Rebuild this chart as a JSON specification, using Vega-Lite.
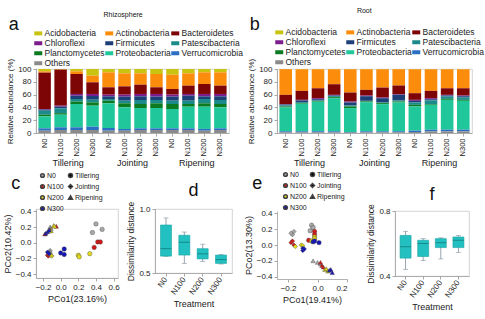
{
  "$schema": "https://vega.github.io/schema/vega-lite/v6.json",
  "padding": {"left": 2, "top": 6, "right": 2, "bottom": 0},
  "spacing": 0,
  "resolve": {"scale": {"color": "independent", "shape": "independent"}},
  "config": {
    "font": "Liberation Sans",
    "view": {"stroke": "#c8c8c8", "strokeWidth": 0.8},
    "axis": {
      "grid": false, "domainColor": "#a0a0a0", "domainWidth": 0.8,
      "tickColor": "#909090", "tickWidth": 0.8, "tickSize": 3,
      "labelColor": "#222222", "titleColor": "#222222",
      "titleFontWeight": "normal", "labelFontSize": 8, "titleFontSize": 8.5,
      "labelPadding": 2, "titlePadding": 3
    },
    "legend": {"labelColor": "#222222"},
    "title": {"fontWeight": "normal", "color": "#111111"}
  },
  "datasets": {
    "rhizosphereBars": [
      {"stage": "Tillering", "treatment": "N0", "Acidobacteria": 3.6, "Actinobacteria": 2.1, "Bacteroidetes": 56.8, "Chloroflexi": 1.0, "Firmicutes": 1.6, "Patescibacteria": 6.3, "Planctomycetes": 2.6, "Proteobacteria": 18.7, "Verrucomicrobia": 3.7, "Others": 3.6},
      {"stage": "Tillering", "treatment": "N100", "Acidobacteria": 0.5, "Actinobacteria": 0.5, "Bacteroidetes": 56.3, "Chloroflexi": 1.5, "Firmicutes": 2.7, "Patescibacteria": 7.5, "Planctomycetes": 2.4, "Proteobacteria": 19.7, "Verrucomicrobia": 4.2, "Others": 4.7},
      {"stage": "Tillering", "treatment": "N200", "Acidobacteria": 3.6, "Actinobacteria": 4.2, "Bacteroidetes": 31.2, "Chloroflexi": 2.7, "Firmicutes": 5.2, "Patescibacteria": 4.1, "Planctomycetes": 3.7, "Proteobacteria": 36.4, "Verrucomicrobia": 4.2, "Others": 4.7},
      {"stage": "Tillering", "treatment": "N300", "Acidobacteria": 10.4, "Actinobacteria": 10.4, "Bacteroidetes": 18.2, "Chloroflexi": 3.2, "Firmicutes": 5.8, "Patescibacteria": 4.1, "Planctomycetes": 5.2, "Proteobacteria": 32.8, "Verrucomicrobia": 5.2, "Others": 4.7},
      {"stage": "Jointing", "treatment": "N0", "Acidobacteria": 5.2, "Actinobacteria": 23.4, "Bacteroidetes": 11.5, "Chloroflexi": 2.6, "Firmicutes": 4.2, "Patescibacteria": 2.6, "Planctomycetes": 4.1, "Proteobacteria": 38.6, "Verrucomicrobia": 4.2, "Others": 3.6},
      {"stage": "Jointing", "treatment": "N100", "Acidobacteria": 6.8, "Actinobacteria": 20.3, "Bacteroidetes": 13.0, "Chloroflexi": 3.1, "Firmicutes": 6.3, "Patescibacteria": 4.1, "Planctomycetes": 6.3, "Proteobacteria": 33.8, "Verrucomicrobia": 2.7, "Others": 3.6},
      {"stage": "Jointing", "treatment": "N200", "Acidobacteria": 6.8, "Actinobacteria": 17.7, "Bacteroidetes": 14.5, "Chloroflexi": 3.7, "Firmicutes": 5.7, "Patescibacteria": 6.3, "Planctomycetes": 6.2, "Proteobacteria": 31.8, "Verrucomicrobia": 2.6, "Others": 4.7},
      {"stage": "Jointing", "treatment": "N300", "Acidobacteria": 7.8, "Actinobacteria": 20.8, "Bacteroidetes": 10.4, "Chloroflexi": 4.2, "Firmicutes": 5.2, "Patescibacteria": 5.2, "Planctomycetes": 7.3, "Proteobacteria": 31.8, "Verrucomicrobia": 2.6, "Others": 4.7},
      {"stage": "Ripening", "treatment": "N0", "Acidobacteria": 8.9, "Actinobacteria": 22.3, "Bacteroidetes": 8.9, "Chloroflexi": 3.1, "Firmicutes": 6.3, "Patescibacteria": 5.2, "Planctomycetes": 7.8, "Proteobacteria": 30.2, "Verrucomicrobia": 2.6, "Others": 4.7},
      {"stage": "Ripening", "treatment": "N100", "Acidobacteria": 6.8, "Actinobacteria": 19.2, "Bacteroidetes": 13.0, "Chloroflexi": 2.7, "Firmicutes": 7.8, "Patescibacteria": 5.2, "Planctomycetes": 4.2, "Proteobacteria": 33.8, "Verrucomicrobia": 2.6, "Others": 4.7},
      {"stage": "Ripening", "treatment": "N200", "Acidobacteria": 5.2, "Actinobacteria": 18.2, "Bacteroidetes": 15.6, "Chloroflexi": 3.7, "Firmicutes": 4.2, "Patescibacteria": 6.7, "Planctomycetes": 5.3, "Proteobacteria": 34.7, "Verrucomicrobia": 2.8, "Others": 3.6},
      {"stage": "Ripening", "treatment": "N300", "Acidobacteria": 5.2, "Actinobacteria": 20.8, "Bacteroidetes": 13.0, "Chloroflexi": 3.7, "Firmicutes": 5.7, "Patescibacteria": 6.3, "Planctomycetes": 5.2, "Proteobacteria": 32.8, "Verrucomicrobia": 2.6, "Others": 4.7}
    ],
    "rootBars": [
      {"stage": "Tillering", "treatment": "N0", "Acidobacteria": 0.3, "Actinobacteria": 40.1, "Bacteroidetes": 14.5, "Chloroflexi": 0.5, "Firmicutes": 1.6, "Patescibacteria": 1.5, "Planctomycetes": 1.6, "Proteobacteria": 37.3, "Verrucomicrobia": 1.5, "Others": 1.1},
      {"stage": "Tillering", "treatment": "N100", "Acidobacteria": 0.5, "Actinobacteria": 33.7, "Bacteroidetes": 14.0, "Chloroflexi": 1.0, "Firmicutes": 2.6, "Patescibacteria": 1.6, "Planctomycetes": 1.0, "Proteobacteria": 43.0, "Verrucomicrobia": 1.5, "Others": 1.1},
      {"stage": "Tillering", "treatment": "N200", "Acidobacteria": 0.5, "Actinobacteria": 29.6, "Bacteroidetes": 15.5, "Chloroflexi": 1.5, "Firmicutes": 2.1, "Patescibacteria": 1.0, "Planctomycetes": 1.0, "Proteobacteria": 46.1, "Verrucomicrobia": 1.5, "Others": 1.2},
      {"stage": "Tillering", "treatment": "N300", "Acidobacteria": 0.5, "Actinobacteria": 23.3, "Bacteroidetes": 16.6, "Chloroflexi": 1.0, "Firmicutes": 1.0, "Patescibacteria": 1.6, "Planctomycetes": 1.6, "Proteobacteria": 51.8, "Verrucomicrobia": 1.5, "Others": 1.1},
      {"stage": "Jointing", "treatment": "N0", "Acidobacteria": 0.5, "Actinobacteria": 36.3, "Bacteroidetes": 14.0, "Chloroflexi": 1.5, "Firmicutes": 4.7, "Patescibacteria": 1.5, "Planctomycetes": 2.6, "Proteobacteria": 37.3, "Verrucomicrobia": 1.0, "Others": 0.6},
      {"stage": "Jointing", "treatment": "N100", "Acidobacteria": 0.5, "Actinobacteria": 32.1, "Bacteroidetes": 8.9, "Chloroflexi": 1.0, "Firmicutes": 7.2, "Patescibacteria": 1.0, "Planctomycetes": 1.1, "Proteobacteria": 45.6, "Verrucomicrobia": 1.5, "Others": 1.1},
      {"stage": "Jointing", "treatment": "N200", "Acidobacteria": 0.5, "Actinobacteria": 28.5, "Bacteroidetes": 15.6, "Chloroflexi": 1.0, "Firmicutes": 6.7, "Patescibacteria": 1.0, "Planctomycetes": 1.6, "Proteobacteria": 42.5, "Verrucomicrobia": 1.5, "Others": 1.1},
      {"stage": "Jointing", "treatment": "N300", "Acidobacteria": 0.5, "Actinobacteria": 25.4, "Bacteroidetes": 13.5, "Chloroflexi": 1.0, "Firmicutes": 8.8, "Patescibacteria": 1.6, "Planctomycetes": 1.5, "Proteobacteria": 45.1, "Verrucomicrobia": 1.5, "Others": 1.1},
      {"stage": "Ripening", "treatment": "N0", "Acidobacteria": 0.5, "Actinobacteria": 37.3, "Bacteroidetes": 10.4, "Chloroflexi": 1.6, "Firmicutes": 2.5, "Patescibacteria": 3.7, "Planctomycetes": 2.5, "Proteobacteria": 37.8, "Verrucomicrobia": 2.1, "Others": 1.6},
      {"stage": "Ripening", "treatment": "N100", "Acidobacteria": 0.5, "Actinobacteria": 33.7, "Bacteroidetes": 11.4, "Chloroflexi": 1.6, "Firmicutes": 2.0, "Patescibacteria": 5.7, "Planctomycetes": 1.1, "Proteobacteria": 38.9, "Verrucomicrobia": 2.6, "Others": 2.5},
      {"stage": "Ripening", "treatment": "N200", "Acidobacteria": 0.5, "Actinobacteria": 29.6, "Bacteroidetes": 10.3, "Chloroflexi": 1.0, "Firmicutes": 1.6, "Patescibacteria": 3.6, "Planctomycetes": 1.6, "Proteobacteria": 46.6, "Verrucomicrobia": 2.6, "Others": 2.6},
      {"stage": "Ripening", "treatment": "N300", "Acidobacteria": 0.5, "Actinobacteria": 29.6, "Bacteroidetes": 11.4, "Chloroflexi": 1.0, "Firmicutes": 2.1, "Patescibacteria": 3.6, "Planctomycetes": 1.5, "Proteobacteria": 45.1, "Verrucomicrobia": 2.6, "Others": 2.6}
    ],
    "pcoaRhizosphere": [
      {"stage": "Tillering", "treatment": "N0", "pc1": 0.36, "pc2": 0.13},
      {"stage": "Tillering", "treatment": "N0", "pc1": 0.40, "pc2": 0.24},
      {"stage": "Tillering", "treatment": "N0", "pc1": 0.47, "pc2": 0.17},
      {"stage": "Tillering", "treatment": "N100", "pc1": 0.38, "pc2": -0.06},
      {"stage": "Tillering", "treatment": "N100", "pc1": 0.42, "pc2": 0.01},
      {"stage": "Tillering", "treatment": "N100", "pc1": 0.45, "pc2": 0.01},
      {"stage": "Tillering", "treatment": "N200", "pc1": 0.20, "pc2": -0.16},
      {"stage": "Tillering", "treatment": "N200", "pc1": 0.21, "pc2": -0.18},
      {"stage": "Tillering", "treatment": "N200", "pc1": 0.33, "pc2": -0.14},
      {"stage": "Tillering", "treatment": "N300", "pc1": 0.00, "pc2": -0.13},
      {"stage": "Tillering", "treatment": "N300", "pc1": 0.04, "pc2": -0.08},
      {"stage": "Tillering", "treatment": "N300", "pc1": 0.04, "pc2": -0.15},
      {"stage": "Jointing", "treatment": "N0", "pc1": -0.12, "pc2": -0.10},
      {"stage": "Jointing", "treatment": "N0", "pc1": -0.12, "pc2": -0.12},
      {"stage": "Jointing", "treatment": "N0", "pc1": -0.13, "pc2": -0.15},
      {"stage": "Jointing", "treatment": "N100", "pc1": -0.15, "pc2": -0.16},
      {"stage": "Jointing", "treatment": "N100", "pc1": -0.14, "pc2": -0.17},
      {"stage": "Jointing", "treatment": "N100", "pc1": -0.12, "pc2": -0.16},
      {"stage": "Jointing", "treatment": "N200", "pc1": -0.10, "pc2": -0.17},
      {"stage": "Jointing", "treatment": "N200", "pc1": -0.11, "pc2": -0.16},
      {"stage": "Jointing", "treatment": "N200", "pc1": -0.12, "pc2": -0.14},
      {"stage": "Jointing", "treatment": "N300", "pc1": -0.14, "pc2": -0.13},
      {"stage": "Jointing", "treatment": "N300", "pc1": -0.15, "pc2": -0.12},
      {"stage": "Jointing", "treatment": "N300", "pc1": -0.13, "pc2": -0.14},
      {"stage": "Ripening", "treatment": "N0", "pc1": -0.12, "pc2": 0.20},
      {"stage": "Ripening", "treatment": "N0", "pc1": -0.11, "pc2": 0.18},
      {"stage": "Ripening", "treatment": "N0", "pc1": -0.13, "pc2": 0.17},
      {"stage": "Ripening", "treatment": "N100", "pc1": -0.05, "pc2": 0.21},
      {"stage": "Ripening", "treatment": "N100", "pc1": -0.18, "pc2": 0.11},
      {"stage": "Ripening", "treatment": "N100", "pc1": -0.12, "pc2": 0.16},
      {"stage": "Ripening", "treatment": "N200", "pc1": -0.08, "pc2": 0.22},
      {"stage": "Ripening", "treatment": "N200", "pc1": -0.07, "pc2": 0.21},
      {"stage": "Ripening", "treatment": "N200", "pc1": -0.11, "pc2": 0.15},
      {"stage": "Ripening", "treatment": "N300", "pc1": -0.17, "pc2": 0.12},
      {"stage": "Ripening", "treatment": "N300", "pc1": -0.15, "pc2": 0.14},
      {"stage": "Ripening", "treatment": "N300", "pc1": -0.13, "pc2": 0.16}
    ],
    "pcoaRoot": [
      {"stage": "Tillering", "treatment": "N0", "pc1": -0.04, "pc2": 0.25},
      {"stage": "Tillering", "treatment": "N0", "pc1": -0.03, "pc2": 0.22},
      {"stage": "Tillering", "treatment": "N0", "pc1": -0.05, "pc2": 0.18},
      {"stage": "Tillering", "treatment": "N100", "pc1": -0.06, "pc2": 0.06},
      {"stage": "Tillering", "treatment": "N100", "pc1": -0.02, "pc2": 0.17},
      {"stage": "Tillering", "treatment": "N100", "pc1": -0.02, "pc2": 0.13},
      {"stage": "Tillering", "treatment": "N200", "pc1": -0.02, "pc2": 0.10},
      {"stage": "Tillering", "treatment": "N200", "pc1": -0.02, "pc2": 0.08},
      {"stage": "Tillering", "treatment": "N200", "pc1": -0.04, "pc2": 0.05},
      {"stage": "Tillering", "treatment": "N300", "pc1": -0.03, "pc2": 0.04},
      {"stage": "Tillering", "treatment": "N300", "pc1": -0.02, "pc2": 0.05},
      {"stage": "Tillering", "treatment": "N300", "pc1": 0.01, "pc2": 0.03},
      {"stage": "Jointing", "treatment": "N0", "pc1": -0.17, "pc2": 0.13},
      {"stage": "Jointing", "treatment": "N0", "pc1": -0.16, "pc2": 0.17},
      {"stage": "Jointing", "treatment": "N0", "pc1": -0.18, "pc2": 0.15},
      {"stage": "Jointing", "treatment": "N100", "pc1": -0.18, "pc2": 0.03},
      {"stage": "Jointing", "treatment": "N100", "pc1": -0.17, "pc2": 0.05},
      {"stage": "Jointing", "treatment": "N100", "pc1": -0.16, "pc2": 0.00},
      {"stage": "Jointing", "treatment": "N200", "pc1": -0.15, "pc2": -0.02},
      {"stage": "Jointing", "treatment": "N200", "pc1": -0.11, "pc2": 0.00},
      {"stage": "Jointing", "treatment": "N200", "pc1": -0.10, "pc2": -0.01},
      {"stage": "Jointing", "treatment": "N300", "pc1": -0.10, "pc2": -0.04},
      {"stage": "Jointing", "treatment": "N300", "pc1": -0.10, "pc2": -0.07},
      {"stage": "Jointing", "treatment": "N300", "pc1": -0.09, "pc2": -0.05},
      {"stage": "Ripening", "treatment": "N0", "pc1": -0.03, "pc2": -0.20},
      {"stage": "Ripening", "treatment": "N0", "pc1": 0.00, "pc2": -0.22},
      {"stage": "Ripening", "treatment": "N0", "pc1": 0.02, "pc2": -0.24},
      {"stage": "Ripening", "treatment": "N100", "pc1": 0.02, "pc2": -0.22},
      {"stage": "Ripening", "treatment": "N100", "pc1": 0.03, "pc2": -0.26},
      {"stage": "Ripening", "treatment": "N100", "pc1": 0.04, "pc2": -0.28},
      {"stage": "Ripening", "treatment": "N200", "pc1": 0.05, "pc2": -0.31},
      {"stage": "Ripening", "treatment": "N200", "pc1": 0.06, "pc2": -0.30},
      {"stage": "Ripening", "treatment": "N200", "pc1": 0.07, "pc2": -0.33},
      {"stage": "Ripening", "treatment": "N300", "pc1": 0.08, "pc2": -0.32},
      {"stage": "Ripening", "treatment": "N300", "pc1": 0.09, "pc2": -0.31},
      {"stage": "Ripening", "treatment": "N300", "pc1": 0.10, "pc2": -0.35}
    ],
    "distRhizosphere": [
      {"treatment": "N0", "lower": 0.63, "q1": 0.632, "median": 0.69, "q3": 0.875, "upper": 0.93},
      {"treatment": "N100", "lower": 0.575, "q1": 0.64, "median": 0.74, "q3": 0.795, "upper": 0.82},
      {"treatment": "N200", "lower": 0.59, "q1": 0.61, "median": 0.65, "q3": 0.69, "upper": 0.725},
      {"treatment": "N300", "lower": 0.57, "q1": 0.575, "median": 0.605, "q3": 0.64, "upper": 0.645}
    ],
    "distRoot": [
      {"treatment": "N0", "lower": 0.44, "q1": 0.51, "median": 0.58, "q3": 0.65, "upper": 0.675},
      {"treatment": "N100", "lower": 0.495, "q1": 0.52, "median": 0.60, "q3": 0.62, "upper": 0.63},
      {"treatment": "N200", "lower": 0.505, "q1": 0.575, "median": 0.605, "q3": 0.63, "upper": 0.635},
      {"treatment": "N300", "lower": 0.545, "q1": 0.575, "median": 0.62, "q3": 0.64, "upper": 0.65}
    ]
  },
  "hconcat": [
    {
      "title": {"text": "Rhizosphere", "fontSize": 7, "anchor": "middle", "offset": 0, "dy": 2},
      "spacing": 3,
      "resolve": {"scale": {"color": "independent", "shape": "independent"}},
      "vconcat": [
        {
          "width": 193, "height": 64,
          "title": {"text": "a", "anchor": "start", "fontSize": 18, "dx": 2, "dy": 9},
          "data": {"name": "rhizosphereBars"},
          "transform": [
            {"fold": ["Acidobacteria", "Actinobacteria", "Bacteroidetes", "Chloroflexi", "Firmicutes", "Patescibacteria", "Planctomycetes", "Proteobacteria", "Verrucomicrobia", "Others"], "as": ["phylum", "abundance"]},
            {"calculate": "datum.stage + ' ' + datum.treatment", "as": "sample"},
            {"calculate": "indexof(['Others', 'Verrucomicrobia', 'Proteobacteria', 'Planctomycetes', 'Patescibacteria', 'Firmicutes', 'Chloroflexi', 'Bacteroidetes', 'Actinobacteria', 'Acidobacteria'], datum.phylum)", "as": "stackRank"}
          ],
          "layer": [
            {
              "mark": {"type": "bar"},
              "encoding": {
                "x": {"field": "sample", "type": "nominal", "sort": null,
                  "scale": {"paddingInner": 0.22, "paddingOuter": 0.15},
                  "axis": {"title": null, "labelExpr": "split(datum.label, ' ')[1]", "labelAngle": -90, "labelFontSize": 7.5, "labelAlign": "right", "labelBaseline": "middle"}},
                "y": {"field": "abundance", "type": "quantitative", "stack": "zero",
                  "scale": {"domain": [0, 100], "nice": false},
                  "axis": {"title": "Relative abundance (%)", "values": [0, 20, 40, 60, 80, 100], "titleFontSize": 8}},
                "color": {"field": "phylum", "type": "nominal",
                  "scale": {
                    "domain": ["Acidobacteria", "Actinobacteria", "Bacteroidetes", "Chloroflexi", "Firmicutes", "Patescibacteria", "Planctomycetes", "Proteobacteria", "Verrucomicrobia", "Others"],
                    "range": ["#c9c312", "#fb8c0c", "#7d0505", "#7c1d8c", "#1d3f78", "#1a8a8a", "#0c7a20", "#1fc79a", "#2a6fc2", "#8a8a8a"]},
                  "legend": {"title": null, "orient": "none", "direction": "horizontal", "legendX": -2, "legendY": -40, "columns": 3,
                    "symbolType": "M-1,-0.5H1V0.5H-1Z", "symbolSize": 64, "symbolStrokeWidth": 0,
                    "labelFontSize": 8.5, "labelOffset": 2, "rowPadding": 1, "columnPadding": 0, "labelLimit": 200}},
                "order": {"field": "stackRank", "type": "quantitative"}
              }
            },
            {
              "mark": {"type": "text", "text": ""},
              "encoding": {
                "x": {"field": "stage", "type": "nominal", "sort": ["Tillering", "Jointing", "Ripening"],
                  "scale": {"type": "band", "paddingInner": 0, "paddingOuter": 0},
                  "axis": {"orient": "bottom", "title": null, "offset": 25, "domain": false, "ticks": false, "labelAngle": 0, "labelFontSize": 9, "labelPadding": 0, "labelBaseline": "top"}}
              }
            }
          ],
          "resolve": {"scale": {"x": "independent"}}
        },
        {
          "spacing": 37,
          "bounds": "flush",
          "resolve": {"scale": {"color": "independent", "shape": "independent"}},
          "hconcat": [
            {
              "width": 82, "height": 69,
              "title": {"text": "c", "anchor": "start", "fontSize": 18, "dx": 8, "dy": 25},
              "data": {"name": "pcoaRhizosphere"},
              "mark": {"type": "point", "filled": true, "size": 20, "stroke": "#444444", "strokeWidth": 0.4, "opacity": 1},
              "encoding": {
                "x": {"field": "pc1", "type": "quantitative", "scale": {"domain": [-0.28, 0.65], "nice": false, "zero": false},
                  "axis": {"values": [-0.2, 0, 0.2, 0.4, 0.6], "format": ".1f", "title": "PCo1(23.16%)", "titleFontSize": 9}},
                "y": {"field": "pc2", "type": "quantitative", "scale": {"domain": [-0.45, 0.43], "nice": false, "zero": false},
                  "axis": {"values": [-0.4, -0.2, 0, 0.2, 0.4], "format": ".1f", "title": "PCo2(10.42%)", "titleFontSize": 9}},
                "color": {"field": "treatment", "type": "nominal",
                  "scale": {"domain": ["N0", "N100", "N200", "N300"], "range": ["#a8a8a8", "#d11a1a", "#e3dc1a", "#1414b8"]},
                  "legend": {"title": null, "orient": "none", "legendX": 3, "legendY": -37, "symbolType": "circle", "symbolSize": 14, "labelFontSize": 7, "rowPadding": 0, "labelOffset": 1}},
                "shape": {"field": "stage", "type": "nominal",
                  "scale": {"domain": ["Tillering", "Jointing", "Ripening"], "range": ["circle", "diamond", "triangle-up"]},
                  "legend": {"title": null, "orient": "none", "legendX": 31, "legendY": -37, "symbolSize": 16, "labelFontSize": 7, "rowPadding": 0, "labelOffset": 1,
                    "encode": {"symbols": {"update": {"fill": {"value": "transparent"}, "stroke": {"value": "#999999"}, "strokeWidth": {"value": 0.8}}}}}}
              }
            },
            {
              "width": 77, "height": 64,
              "title": {"text": "d", "fontSize": 18, "anchor": "middle", "offset": 1},
              "data": {"name": "distRhizosphere"},
              "encoding": {
                "x": {"field": "treatment", "type": "nominal", "sort": ["N0", "N100", "N200", "N300"],
                  "scale": {"paddingInner": 0.4, "paddingOuter": 0.3},
                  "axis": {"title": "Treatment", "labelAngle": -55, "labelFontSize": 8, "titleFontSize": 9, "titlePadding": 4}}
              },
              "layer": [
                {"mark": {"type": "rule", "color": "#7d8c9a", "strokeWidth": 0.8},
                  "encoding": {"y": {"field": "lower", "type": "quantitative", "title": "Dissimilarity distance", "scale": {"domain": [0.5, 1.0], "nice": false, "zero": false}, "axis": {"values": [0.5, 0.6, 0.7, 0.8, 0.9, 1.0], "format": ".1f", "titleFontSize": 8.5}}, "y2": {"field": "upper"}}},
                {"mark": {"type": "tick", "color": "#7d8c9a", "size": 5, "thickness": 0.8},
                  "encoding": {"y": {"field": "upper", "type": "quantitative", "title": "Dissimilarity distance"}}},
                {"mark": {"type": "tick", "color": "#7d8c9a", "size": 5, "thickness": 0.8},
                  "encoding": {"y": {"field": "lower", "type": "quantitative", "title": "Dissimilarity distance"}}},
                {"mark": {"type": "bar", "fill": "#22c0c0", "stroke": "#1aa3a3", "strokeWidth": 0.6, "width": 11},
                  "encoding": {"y": {"field": "q1", "type": "quantitative", "title": "Dissimilarity distance"}, "y2": {"field": "q3"}}},
                {"mark": {"type": "tick", "color": "#127070", "size": 11, "thickness": 1},
                  "encoding": {"y": {"field": "median", "type": "quantitative", "title": "Dissimilarity distance"}}}
              ]
            }
          ]
        }
      ]
    },
    {
      "title": {"text": "Root", "fontSize": 7, "anchor": "middle", "offset": 0, "dy": -2},
      "spacing": 3,
      "resolve": {"scale": {"color": "independent", "shape": "independent"}},
      "vconcat": [
        {
          "width": 195, "height": 64,
          "title": {"text": "b", "anchor": "start", "fontSize": 18, "dx": 2, "dy": 10},
          "data": {"name": "rootBars"},
          "transform": [
            {"fold": ["Acidobacteria", "Actinobacteria", "Bacteroidetes", "Chloroflexi", "Firmicutes", "Patescibacteria", "Planctomycetes", "Proteobacteria", "Verrucomicrobia", "Others"], "as": ["phylum", "abundance"]},
            {"calculate": "datum.stage + ' ' + datum.treatment", "as": "sample"},
            {"calculate": "indexof(['Others', 'Verrucomicrobia', 'Proteobacteria', 'Planctomycetes', 'Patescibacteria', 'Firmicutes', 'Chloroflexi', 'Bacteroidetes', 'Actinobacteria', 'Acidobacteria'], datum.phylum)", "as": "stackRank"}
          ],
          "layer": [
            {
              "mark": {"type": "bar"},
              "encoding": {
                "x": {"field": "sample", "type": "nominal", "sort": null,
                  "scale": {"paddingInner": 0.22, "paddingOuter": 0.15},
                  "axis": {"title": null, "labelExpr": "split(datum.label, ' ')[1]", "labelAngle": -90, "labelFontSize": 7.5, "labelAlign": "right", "labelBaseline": "middle"}},
                "y": {"field": "abundance", "type": "quantitative", "stack": "zero",
                  "scale": {"domain": [0, 100], "nice": false},
                  "axis": {"title": "Relative abundance (%)", "values": [0, 20, 40, 60, 80, 100], "titleFontSize": 8}},
                "color": {"field": "phylum", "type": "nominal",
                  "scale": {
                    "domain": ["Acidobacteria", "Actinobacteria", "Bacteroidetes", "Chloroflexi", "Firmicutes", "Patescibacteria", "Planctomycetes", "Proteobacteria", "Verrucomicrobia", "Others"],
                    "range": ["#c9c312", "#fb8c0c", "#7d0505", "#7c1d8c", "#1d3f78", "#1a8a8a", "#0c7a20", "#1fc79a", "#2a6fc2", "#8a8a8a"]},
                  "legend": {"title": null, "orient": "none", "direction": "horizontal", "legendX": -2, "legendY": -41, "columns": 3,
                    "symbolType": "M-1,-0.5H1V0.5H-1Z", "symbolSize": 64, "symbolStrokeWidth": 0,
                    "labelFontSize": 8.5, "labelOffset": 2, "rowPadding": 1, "columnPadding": 0, "labelLimit": 200}},
                "order": {"field": "stackRank", "type": "quantitative"}
              }
            },
            {
              "mark": {"type": "text", "text": ""},
              "encoding": {
                "x": {"field": "stage", "type": "nominal", "sort": ["Tillering", "Jointing", "Ripening"],
                  "scale": {"type": "band", "paddingInner": 0, "paddingOuter": 0},
                  "axis": {"orient": "bottom", "title": null, "offset": 25, "domain": false, "ticks": false, "labelAngle": 0, "labelFontSize": 9, "labelPadding": 0, "labelBaseline": "top"}}
              }
            }
          ],
          "resolve": {"scale": {"x": "independent"}}
        },
        {
          "spacing": 48,
          "bounds": "flush",
          "resolve": {"scale": {"color": "independent", "shape": "independent"}},
          "hconcat": [
            {
              "width": 70, "height": 68,
              "title": {"text": "e", "anchor": "start", "fontSize": 18, "dx": 8, "dy": 26},
              "data": {"name": "pcoaRoot"},
              "view": {"stroke": null},
              "mark": {"type": "point", "filled": true, "size": 20, "stroke": "#444444", "strokeWidth": 0.4, "opacity": 1},
              "encoding": {
                "x": {"field": "pc1", "type": "quantitative", "scale": {"domain": [-0.275, 0.2], "nice": false, "zero": false},
                  "axis": {"values": [-0.2, 0, 0.2], "format": ".1f", "title": "PCo1(19.41%)", "titleFontSize": 9}},
                "y": {"field": "pc2", "type": "quantitative", "scale": {"domain": [-0.43, 0.43], "nice": false, "zero": false},
                  "axis": {"values": [-0.4, -0.2, 0, 0.2, 0.4], "format": ".1f", "title": "PCo2(13.30%)", "titleFontSize": 9}},
                "color": {"field": "treatment", "type": "nominal",
                  "scale": {"domain": ["N0", "N100", "N200", "N300"], "range": ["#a8a8a8", "#d11a1a", "#e3dc1a", "#1414b8"]},
                  "legend": {"title": null, "orient": "none", "legendX": 5, "legendY": -40, "symbolType": "circle", "symbolSize": 14, "labelFontSize": 7, "rowPadding": 0, "labelOffset": 1}},
                "shape": {"field": "stage", "type": "nominal",
                  "scale": {"domain": ["Tillering", "Jointing", "Ripening"], "range": ["circle", "diamond", "triangle-up"]},
                  "legend": {"title": null, "orient": "none", "legendX": 32, "legendY": -40, "symbolSize": 16, "labelFontSize": 7, "rowPadding": 0, "labelOffset": 1,
                    "encode": {"symbols": {"update": {"fill": {"value": "transparent"}, "stroke": {"value": "#999999"}, "strokeWidth": {"value": 0.8}}}}}}
              }
            },
            {
              "width": 74, "height": 65,
              "title": {"text": "f", "fontSize": 18, "anchor": "middle", "offset": 0},
              "data": {"name": "distRoot"},
              "encoding": {
                "x": {"field": "treatment", "type": "nominal", "sort": ["N0", "N100", "N200", "N300"],
                  "scale": {"paddingInner": 0.4, "paddingOuter": 0.3},
                  "axis": {"title": "Treatment", "labelAngle": -55, "labelFontSize": 8, "titleFontSize": 9, "titlePadding": 4}}
              },
              "layer": [
                {"mark": {"type": "rule", "color": "#7d8c9a", "strokeWidth": 0.8},
                  "encoding": {"y": {"field": "lower", "type": "quantitative", "title": "Dissimilarity distance", "scale": {"domain": [0.4, 0.8], "nice": false, "zero": false}, "axis": {"values": [0.4, 0.5, 0.6, 0.7, 0.8], "format": ".1f", "titleFontSize": 8.5}}, "y2": {"field": "upper"}}},
                {"mark": {"type": "tick", "color": "#7d8c9a", "size": 5, "thickness": 0.8},
                  "encoding": {"y": {"field": "upper", "type": "quantitative", "title": "Dissimilarity distance"}}},
                {"mark": {"type": "tick", "color": "#7d8c9a", "size": 5, "thickness": 0.8},
                  "encoding": {"y": {"field": "lower", "type": "quantitative", "title": "Dissimilarity distance"}}},
                {"mark": {"type": "bar", "fill": "#22c0c0", "stroke": "#1aa3a3", "strokeWidth": 0.6, "width": 11},
                  "encoding": {"y": {"field": "q1", "type": "quantitative", "title": "Dissimilarity distance"}, "y2": {"field": "q3"}}},
                {"mark": {"type": "tick", "color": "#127070", "size": 11, "thickness": 1},
                  "encoding": {"y": {"field": "median", "type": "quantitative", "title": "Dissimilarity distance"}}}
              ]
            }
          ]
        }
      ]
    }
  ]
}
